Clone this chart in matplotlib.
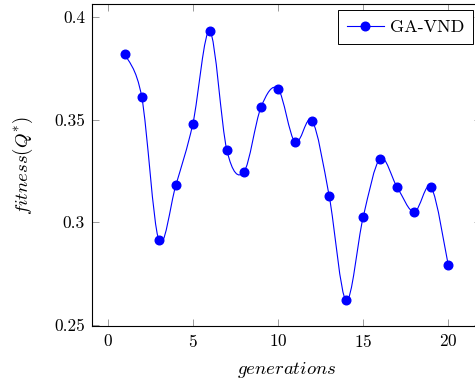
import numpy as np
import matplotlib.pyplot as plt
from matplotlib.path import Path
from matplotlib.patches import PathPatch
from matplotlib.lines import Line2D

plt.rcParams['font.family'] = 'cmr10'
plt.rcParams['mathtext.fontset'] = 'cm'
plt.rcParams['axes.formatter.use_mathtext'] = True

# values
generations = list(range(1, 21))
fitness = [0.382, 0.361, 0.2915, 0.318, 0.348, 0.393, 0.335, 0.3245, 0.356, 0.365,
           0.339, 0.3495, 0.313, 0.262, 0.3025, 0.331, 0.317, 0.305, 0.317, 0.279]
x_ticks = [0, 5, 10, 15, 20]
y_ticks = [0.25, 0.3, 0.35, 0.4]
y_tick_labels = ['0.25', '0.3', '0.35', '0.4']
series_name = 'GA-VND'

blue = (0, 0, 1)

fig = plt.figure(figsize=(4.75, 3.81), dpi=100)
# the right spine sits just outside the picture, as in the reference
ax = fig.add_axes([0.1937, 0.1444, 0.8190, 0.8451])

# smooth curve like TikZ "smooth" (cardinal spline as cubic Bezier)
pts = np.column_stack([generations, fitness]).astype(float)
k = 1 / 6
verts = [pts[0]]
codes = [Path.MOVETO]
n = len(pts)
for i in range(n - 1):
    p0 = pts[i - 1] if i > 0 else pts[i]
    p1, p2 = pts[i], pts[i + 1]
    p3 = pts[i + 2] if i + 2 < n else pts[i + 1]
    c1 = p1 + k * (p2 - p0)
    c2 = p2 - k * (p3 - p1)
    verts += [c1, c2, p2]
    codes += [Path.CURVE4] * 3
ax.add_patch(PathPatch(Path(verts, codes), facecolor='none', edgecolor=blue, lw=0.8))
ax.plot(generations, fitness, ls='none', marker='o', ms=6.2, color=blue, zorder=3)

ax.set_xlim(-0.92, 21.92)
ax.set_ylim(0.2495, 0.4063)
ax.set_xticks(x_ticks)
ax.set_yticks(y_ticks)
ax.set_yticklabels(y_tick_labels)
ax.tick_params(direction='in', length=5, width=0.6, color='0.55',
               top=True, right=True, labelsize=12.5, pad=5)
for s in ax.spines.values():
    s.set_linewidth(0.8)

ax.set_xlabel(r'$generations$', fontsize=13.5, labelpad=7)
ax.set_ylabel(r'$fitness(Q^{*})$', fontsize=13.5, labelpad=14)

handle = Line2D([], [], color=blue, lw=0.8, marker='o', ms=6.2)
leg = ax.legend([handle], [series_name], loc='upper right',
                bbox_to_anchor=(0.98, 0.98), fontsize=13,
                fancybox=False, framealpha=1, edgecolor='black',
                borderaxespad=0, handlelength=2.0, handletextpad=0.35,
                borderpad=0.5)
leg.get_frame().set_linewidth(0.7)

fig.savefig('out.png', dpi=100)
